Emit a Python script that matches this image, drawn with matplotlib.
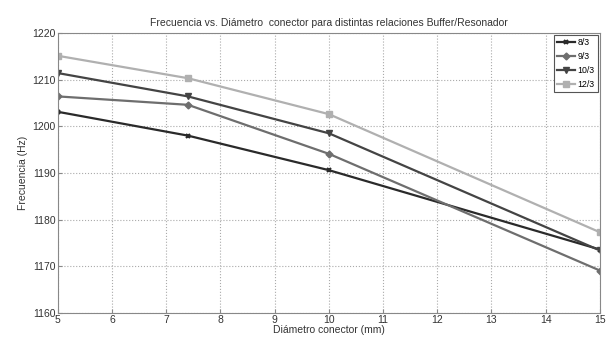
import matplotlib.pyplot as plt

# Diámetro conector (mm)
diametro = [5, 7.4, 10, 15]

# Frecuencia (Hz) por relación Buffer/Resonador
frec_8_3 = [1203.1, 1198.0, 1190.6, 1173.6]
frec_9_3 = [1206.4, 1204.6, 1194.1, 1169.1]
frec_10_3 = [1211.4, 1206.4, 1198.5, 1173.4]
frec_12_3 = [1215.1, 1210.3, 1202.6, 1177.3]

etiquetas = ['8/3', '9/3', '10/3', '12/3']

plt.rcParams['font.family'] = ['Liberation Sans', 'DejaVu Sans']

fig = plt.figure(figsize=(6.09, 3.43), dpi=100)
ax = fig.add_axes([0.095, 0.0875, 0.89, 0.8165])

# Cada serie con su marcador y tono de gris
ax.plot(diametro, frec_8_3, color='#2a2a2a', marker='x', markersize=3.5, mew=1.5, lw=1.6, label=etiquetas[0])
ax.plot(diametro, frec_9_3, color='#6e6e6e', marker='D', markersize=3.5, lw=1.6, label=etiquetas[1])
ax.plot(diametro, frec_10_3, color='#444444', marker='v', markersize=5, lw=1.6, label=etiquetas[2])
ax.plot(diametro, frec_12_3, color='#b0b0b0', marker='s', markersize=4, lw=1.6, label=etiquetas[3])

ax.set_xlim(5, 15)
ax.set_ylim(1160, 1220)
ax.set_xticks(range(5, 16))
ax.set_yticks(range(1160, 1221, 10))

ax.grid(True, linestyle=':', color='#aaaaaa', linewidth=0.8)
for s in ax.spines.values():
    s.set_color('#888888')
ax.tick_params(direction='in', length=3, color='#888888', labelsize=7.5, pad=1.5, labelcolor='#333333')

ax.set_title('Frecuencia vs. Diámetro  conector para distintas relaciones Buffer/Resonador',
             fontsize=7.5, color='#333333', pad=5)
ax.set_xlabel('Diámetro conector (mm)', fontsize=7.5, color='#333333', labelpad=0)
ax.set_ylabel('Frecuencia (Hz)', fontsize=7.5, color='#333333', labelpad=3)

leg = ax.legend(loc='upper right', fontsize=6.3, handlelength=2.0, handletextpad=0.3,
                borderpad=0.35, labelspacing=0.55, fancybox=False, framealpha=1,
                edgecolor='#555555', borderaxespad=0.25)
leg.get_frame().set_linewidth(0.8)

fig.savefig('out.png', dpi=100, facecolor='white')
